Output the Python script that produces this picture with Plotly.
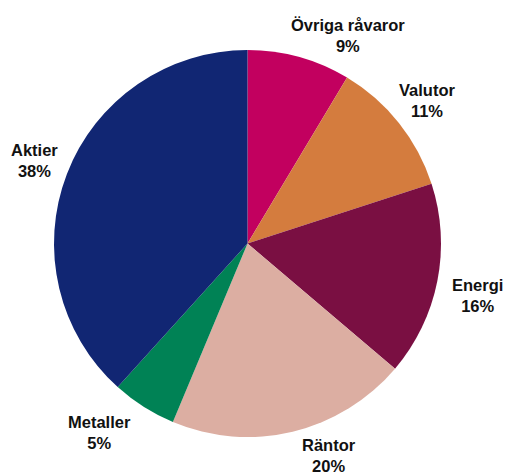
import math
import plotly.graph_objects as go

# Data
labels = ["Övriga råvaror", "Valutor", "Energi", "Räntor", "Metaller", "Aktier"]
values = [8.6, 11.4, 16.2, 20.1, 5.4, 38.3]
colors = ["#C2005F", "#D47C3E", "#7A0F42", "#DCAEA2", "#008255", "#112673"]

# Label placement tweaks (degrees offset from slice mid-angle, distance in px from centre)
label_angle_offset = [10.2, 0.0, 1.5, -7.5, 5.6, 0.3]
label_dist = [231, 230, 236, 227, 240, 229]

W, H = 506, 472
cx, cy_top, R = 247.5, 243.5, 193.5
cy = H - cy_top

fig = go.Figure(go.Pie(
    labels=labels, values=values, sort=False, direction="clockwise", rotation=0,
    marker=dict(colors=colors, line=dict(width=0)),
    textinfo="none", hoverinfo="label+percent", showlegend=False,
    domain=dict(x=[(cx - R) / W, (cx + R) / W], y=[(cy - R) / H, (cy + R) / H]),
))

total = sum(values)
cum = 0
annotations = []
for lab, v, off, d in zip(labels, values, label_angle_offset, label_dist):
    mid = (cum + v / 2) / total * 360 + off
    cum += v
    a = math.radians(mid)
    px = cx + d * math.sin(a)
    py = cy + d * math.cos(a)
    pct = round(v / total * 100)
    annotations.append(dict(
        x=px / W, y=py / H, xref="paper", yref="paper",
        text=f"<b>{lab}<br>{pct}%</b>", showarrow=False,
        xanchor="center", yanchor="middle", align="center",
        font=dict(family="Liberation Sans, Arial, sans-serif", size=16.5, color="#111111"),
    ))

fig.update_layout(
    width=W, height=H, margin=dict(l=0, r=0, t=0, b=0),
    paper_bgcolor="white", plot_bgcolor="white",
    annotations=annotations,
)
fig.write_html(
    "out.html",
    config={"displayModeBar": False},
    post_script="document.body.style.margin='0';document.body.style.overflow='hidden';",
)
